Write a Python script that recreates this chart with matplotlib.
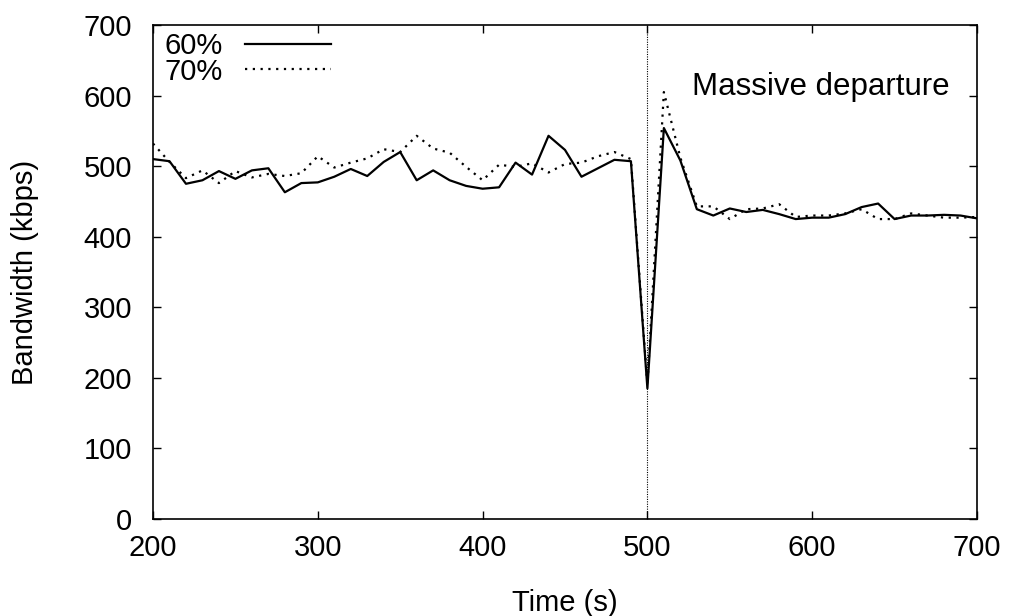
import numpy as np
import matplotlib.pyplot as plt

# time axis (s), one sample every 10 s
time_s = list(range(200, 701, 10))

# 60% series (kbps)
bw_60 = [510, 507, 475, 480, 493, 482, 494, 497, 463, 476,
         477, 485, 496, 486, 506, 520, 480, 494, 480, 472,
         468, 470, 505, 488, 543, 523, 485, 497, 509, 507,
         185, 554, 508, 439, 430, 440, 435, 438, 432, 425,
         427, 427, 432, 442, 447, 425, 430, 430, 431, 430,
         426]

# 70% series (kbps)
bw_70 = [532, 506, 483, 494, 476, 493, 484, 489, 486, 490,
         514, 498, 505, 511, 524, 520, 543, 525, 519, 499,
         480, 502, 499, 504, 491, 503, 505, 514, 520, 510,
         190, 605, 512, 443, 443, 425, 439, 440, 446, 428,
         430, 430, 433, 439, 425, 425, 433, 430, 427, 427,
         428]

event_time = 500
event_label = "Massive departure"

FS = 21
plt.rcParams['font.family'] = ['Liberation Sans', 'DejaVu Sans']
plt.rcParams['font.size'] = FS

fig = plt.figure(figsize=(10.12, 6.16), dpi=100)
ax = fig.add_axes([0.1512, 0.1575, 0.8142, 0.8019])

ax.plot(time_s, bw_60, color='black', lw=1.6, label='60%')
ax.plot(time_s, bw_70, color='black', lw=1.6, linestyle=(0, (1, 2.5)), label='70%')
ax.axvline(event_time, color='black', lw=0.8, linestyle=(0, (1, 1.2)))
ax.text(527, 612, event_label, va='center', ha='left', fontsize=22.5)

ax.set_xlim(200, 700)
ax.set_ylim(0, 700)
ax.set_xticks(range(200, 701, 100))
ax.set_yticks(range(0, 701, 100))
ax.tick_params(direction='in', length=6, width=1, top=True, right=True, labelsize=FS)
ax.tick_params(axis='y', pad=15)
ax.tick_params(axis='x', pad=11)
for s in ax.spines.values():
    s.set_linewidth(1.2)

ax.set_xlabel('Time (s)', fontsize=FS, labelpad=19)
ax.set_ylabel('Bandwidth (kbps)', fontsize=FS, labelpad=32)

ax.legend(loc='upper left', frameon=False, markerfirst=False, handlelength=2.95,
          labelspacing=-0.10, borderaxespad=0, handletextpad=0.75, fontsize=FS,
          borderpad=0, bbox_to_anchor=(0.014, 0.985))

fig.savefig('out.png', dpi=100)
